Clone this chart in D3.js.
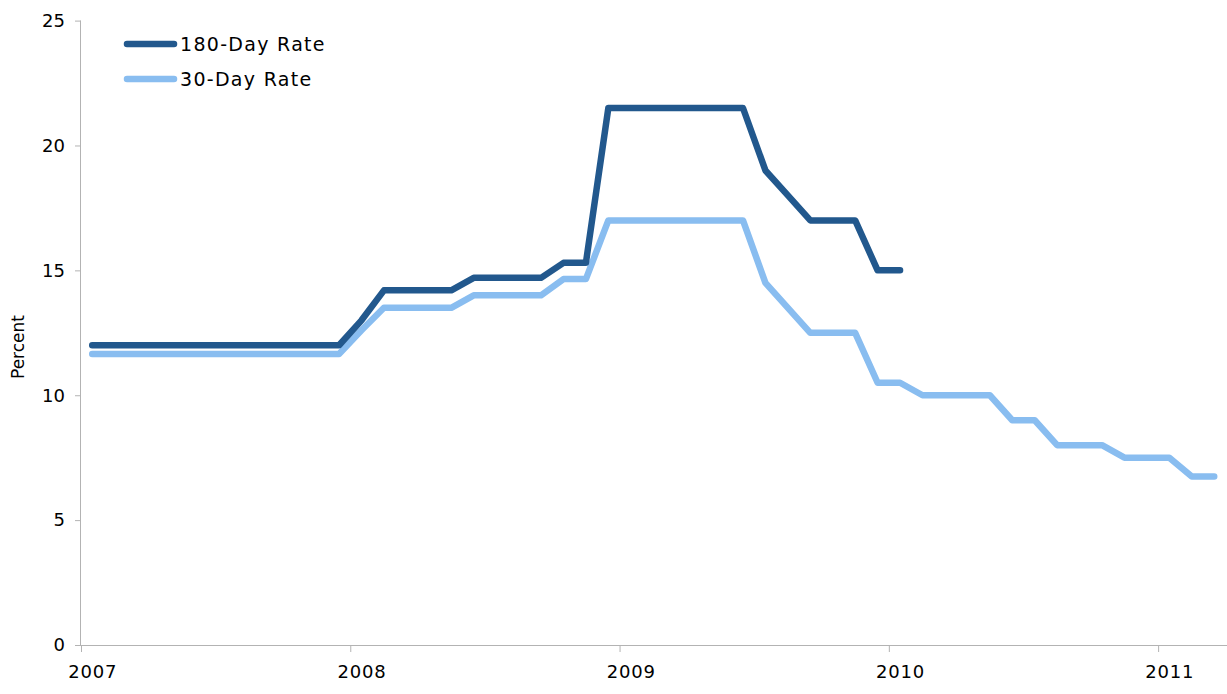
<!DOCTYPE html>
<html><head><meta charset="utf-8">
<script src="https://cdn.jsdelivr.net/npm/d3@7"></script>
<style>
body{margin:0;background:#fff;}
text{font-family:"DejaVu Sans",Verdana,sans-serif;fill:#000;}
</style></head>
<body><svg id="c" width="1227" height="694"></svg>
<script>
// Months from Jan 2007 to Mar 2011
const months = ["2007-01","2007-02","2007-03","2007-04","2007-05","2007-06","2007-07","2007-08","2007-09","2007-10","2007-11","2007-12",
"2008-01","2008-02","2008-03","2008-04","2008-05","2008-06","2008-07","2008-08","2008-09","2008-10","2008-11","2008-12",
"2009-01","2009-02","2009-03","2009-04","2009-05","2009-06","2009-07","2009-08","2009-09","2009-10","2009-11","2009-12",
"2010-01","2010-02","2010-03","2010-04","2010-05","2010-06","2010-07","2010-08","2010-09","2010-10","2010-11","2010-12",
"2011-01","2011-02","2011-03"];
const rate180 = [12,12,12,12,12,12,12,12,12,12,12,12,
13,14.2,14.2,14.2,14.2,14.7,14.7,14.7,14.7,15.3,15.3,21.5,
21.5,21.5,21.5,21.5,21.5,21.5,19,18,17,17,17,15,
15];
const rate30 = [11.65,11.65,11.65,11.65,11.65,11.65,11.65,11.65,11.65,11.65,11.65,11.65,
12.6,13.5,13.5,13.5,13.5,14,14,14,14,14.65,14.65,17,
17,17,17,17,17,17,14.5,13.5,12.5,12.5,12.5,10.5,
10.5,10,10,10,10,9,9,8,8,8,7.5,7.5,
7.5,6.75,6.75];
const yTicks = [0,5,10,15,20,25];
const yearTicks = [0,12,24,36,48];
const yearLabels = ["2007","2008","2009","2010","2011"];
const seriesNames = ["180-Day Rate","30-Day Rate"];
const colors = ["#22588d","#89bdf0"];

const svg = d3.select("#c");
const plotLeft = 81, plotTop = 20.6, plotBottom = 645;
const x = d3.scaleLinear().domain([0, months.length]).range([plotLeft, plotLeft + 22.44*months.length]);
const y = d3.scaleLinear().domain([0,25]).range([plotBottom, plotTop]);
const axisColor = "#b3b3b3";

// y axis
const ya = svg.append("g").attr("transform",`translate(${plotLeft},0)`)
  .call(d3.axisLeft(y).tickValues(yTicks).tickSize(6).tickPadding(10));
ya.select(".domain").attr("stroke",axisColor).attr("d",`M-0.5,${plotTop}V${plotBottom}`);
ya.selectAll(".tick line").attr("stroke",axisColor);
ya.selectAll(".tick text").style("font-size","18px").style("font-family","'DejaVu Sans',Verdana,sans-serif").attr("fill","#000");

// x axis
const xa = svg.append("g").attr("transform",`translate(0,${plotBottom})`)
  .call(d3.axisBottom(x).tickValues(yearTicks).tickSize(7).tickPadding(13)
    .tickFormat((d,i)=>yearLabels[i]));
xa.select(".domain").attr("stroke",axisColor).attr("d",`M${plotLeft},0.5H1227`);
xa.selectAll(".tick line").attr("stroke",axisColor);
xa.selectAll(".tick text").attr("dx", x(0.5)-x(0)).style("font-size","18px")
  .style("letter-spacing","0.8px")
  .style("font-family","'DejaVu Sans',Verdana,sans-serif").attr("fill","#000");

// y label
svg.append("text").attr("transform","translate(24,347) rotate(-90)")
  .attr("text-anchor","middle").style("font-size","17px").text("Percent");

// lines
const line = d3.line().x((d,i)=>x(i+0.5)).y(d=>y(d));
[rate30, rate180].forEach((s,k)=>{
  svg.append("path").datum(s).attr("d",line).attr("fill","none")
    .attr("stroke", k===0?colors[1]:colors[0]).attr("stroke-width",6.5)
    .attr("stroke-linejoin","round").attr("stroke-linecap","round");
});

// legend
seriesNames.forEach((n,i)=>{
  const ly = 44 + i*35;
  svg.append("line").attr("x1",127).attr("x2",174).attr("y1",ly).attr("y2",ly)
    .attr("stroke",colors[i]).attr("stroke-width",6.5).attr("stroke-linecap","round");
  svg.append("text").attr("x",180).attr("y",ly+7).style("font-size","19px")
    .style("letter-spacing","1.3px").text(n);
});
</script></body></html>
